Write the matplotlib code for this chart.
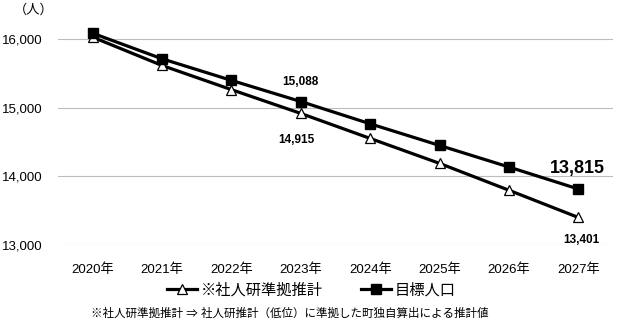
import matplotlib
matplotlib.use("Agg")
import matplotlib.pyplot as plt

plt.rcParams['font.family'] = ['Liberation Sans', 'Noto Sans CJK JP', 'DejaVu Sans']

years = ["2020年", "2021年", "2022年", "2023年", "2024年", "2025年", "2026年", "2027年"]
ipss_based = [16025, 15613, 15261, 14915, 14551, 14188, 13797, 13401]
target_pop = [16082, 15710, 15396, 15088, 14764, 14449, 14135, 13815]
yticks = [13000, 14000, 15000, 16000]
ytick_labels = ["13,000", "14,000", "15,000", "16,000"]

fig = plt.figure(figsize=(6.21, 3.24), dpi=100)
ax = fig.add_axes([58/621, 1-245/324, 555/621, (245-11.4)/324])

x = list(range(len(years)))
l1, = ax.plot(x, ipss_based, color='black', lw=2.3, marker='^', markersize=7,
              markerfacecolor='white', markeredgecolor='black', markeredgewidth=0.9,
              label='※社人研準拠推計', zorder=3)
l2, = ax.plot(x, target_pop, color='black', lw=2.3, marker='s', markersize=7,
              markerfacecolor='black', label='目標人口', zorder=4)

ax.set_xlim(-0.5, len(years)-0.5)
ax.set_ylim(13000, 16400)
ax.set_yticks(yticks)
ax.set_yticklabels(ytick_labels, fontsize=9.5)
ax.set_xticks(x)
ax.set_xticklabels(years, fontsize=9.5)
ax.tick_params(axis='both', length=0)
ax.tick_params(axis='y', pad=11)
ax.tick_params(axis='x', pad=13)
for s in ax.spines.values():
    s.set_visible(False)
ax.grid(axis='y', color='#bdbdbd', lw=0.8)
ax.set_axisbelow(True)

# data labels
ax.annotate(f"{target_pop[3]:,}", (x[3], target_pop[3]), xytext=(0, 14), textcoords='offset points',
            ha='center', va='center', fontsize=8.5, fontweight='bold')
ax.annotate(f"{ipss_based[3]:,}", (x[3], ipss_based[3]), xytext=(-3, -19), textcoords='offset points',
            ha='center', va='center', fontsize=8.5, fontweight='bold')
ax.annotate(f"{target_pop[7]:,}", (x[7], target_pop[7]), xytext=(-1, 15), textcoords='offset points',
            ha='center', va='center', fontsize=13, fontweight='bold')
ax.annotate(f"{ipss_based[7]:,}", (x[7], ipss_based[7]), xytext=(2, -16), textcoords='offset points',
            ha='center', va='center', fontsize=8.5, fontweight='bold')

fig.text(34/621, 1-10/324, "（人）", ha='center', va='center', fontsize=9.5)

fig.legend(handles=[l1, l2], loc='center', bbox_to_anchor=(311/621, 1-290/324), ncol=2,
           frameon=False, fontsize=11, handlelength=2.0, columnspacing=2.5, handletextpad=0.2,
           borderaxespad=0)

fig.text(290/621, 1-314/324, "※社人研準拠推計 ⇒ 社人研推計（低位）に準拠した町独自算出による推計値",
         ha='center', va='center', fontsize=8.3)

fig.savefig("out.png", dpi=100)
